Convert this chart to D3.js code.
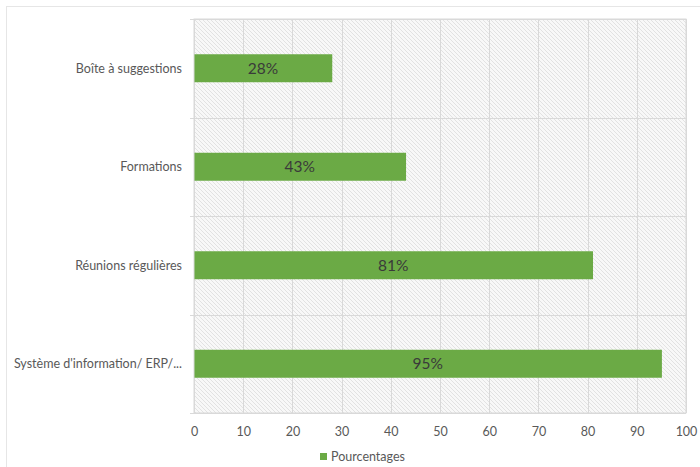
<!DOCTYPE html>
<html>
<head>
<meta charset="utf-8">
<script src="https://cdn.jsdelivr.net/npm/d3@7/dist/d3.min.js"></script>
<style>
  html, body { margin: 0; padding: 0; background: #fff; }
  svg { display: block; font-family: Lato, "Open Sans", sans-serif; }
</style>
</head>
<body>
<svg id="chart" width="700" height="467"></svg>
<script>
// Categories (top to bottom) and their percentages
const categories = [
  "Boîte à suggestions",
  "Formations",
  "Réunions régulières",
  "Système d'information/ ERP/..."
];
const values = [28, 43, 81, 95];
const xTicks = [0, 10, 20, 30, 40, 50, 60, 70, 80, 90, 100];
const seriesName = "Pourcentages";

const svg = d3.select("#chart");
const W = 700, H = 467;
const margin = { left: 194, right: 14, top: 19, bottom: 54 };
const innerW = W - margin.left - margin.right;
const innerH = H - margin.top - margin.bottom;

const barColor = "#6BAA45";
const gridColor = "#d9d9d9";
const textColor = "#595959";

// Outer frame lines of the chart area
svg.append("line").attr("x1", 6).attr("x2", W).attr("y1", 6.5).attr("y2", 6.5)
  .attr("stroke", "#e6e6e6").attr("stroke-width", 1);
svg.append("line").attr("x1", 6.5).attr("x2", 6.5).attr("y1", 6).attr("y2", H)
  .attr("stroke", "#e6e6e6").attr("stroke-width", 1);

// Diagonal hatch fill for the plot area
const defs = svg.append("defs");
const pat = defs.append("pattern")
  .attr("id", "hatch")
  .attr("patternUnits", "userSpaceOnUse")
  .attr("width", 4).attr("height", 4);
pat.append("rect").attr("width", 4).attr("height", 4).attr("fill", "#f8f8f8");
pat.append("path")
  .attr("d", "M-1,-1 L5,5 M-1,3 L1,5 M3,-1 L5,1")
  .attr("stroke", "#e0e0e0").attr("stroke-width", 0.9);

const g = svg.append("g").attr("transform", `translate(${margin.left},${margin.top})`);

const x = d3.scaleLinear().domain([0, 100]).range([0, innerW]);
const y = d3.scaleBand().domain(categories).range([0, innerH]).paddingInner(0).paddingOuter(0);

// Plot background
g.append("rect")
  .attr("x", 0).attr("y", 0)
  .attr("width", innerW).attr("height", innerH)
  .attr("fill", "url(#hatch)")
  .attr("stroke", gridColor).attr("stroke-width", 1);

// Vertical gridlines
g.append("g").selectAll("line")
  .data(xTicks)
  .join("line")
  .attr("x1", d => Math.round(x(d)) + 0.5)
  .attr("x2", d => Math.round(x(d)) + 0.5)
  .attr("y1", 0).attr("y2", innerH)
  .attr("stroke", gridColor).attr("stroke-width", 1);

// Category separators with short outer ticks
const sepPositions = categories.map(c => y(c)).concat([innerH]);
g.append("g").selectAll("line")
  .data(sepPositions)
  .join("line")
  .attr("x1", -4).attr("x2", innerW)
  .attr("y1", d => Math.round(d) + 0.5)
  .attr("y2", d => Math.round(d) + 0.5)
  .attr("stroke", gridColor).attr("stroke-width", 1);

// Bars
const barH = 28;
g.append("g").selectAll("rect")
  .data(values)
  .join("rect")
  .attr("x", x(0) + 0.5)
  .attr("y", (d, i) => y(categories[i]) + y.bandwidth() / 2 - barH / 2)
  .attr("width", d => x(d) - x(0))
  .attr("height", barH)
  .attr("fill", barColor);

// Value labels centred in each bar
g.append("g").selectAll("text")
  .data(values)
  .join("text")
  .attr("x", d => (x(0) + x(d)) / 2)
  .attr("y", (d, i) => y(categories[i]) + y.bandwidth() / 2)
  .attr("dy", "0.36em")
  .attr("text-anchor", "middle")
  .attr("font-size", 15.5)
  .attr("fill", "#3a3a3a")
  .text(d => d + "%");

// Category labels
g.append("g").selectAll("text")
  .data(categories)
  .join("text")
  .attr("x", -12)
  .attr("y", d => y(d) + y.bandwidth() / 2)
  .attr("dy", "0.35em")
  .attr("text-anchor", "end")
  .attr("font-size", 12.5)
  .attr("fill", textColor)
  .text(d => d);

// X axis tick labels
const xAxis = d3.axisBottom(x).tickValues(xTicks).tickSize(0).tickPadding(14);
const ax = g.append("g").attr("transform", `translate(0,${innerH})`).call(xAxis);
ax.select(".domain").remove();
ax.selectAll("text").attr("font-size", 12.5).attr("fill", textColor)
  .attr("font-family", "Lato, 'Open Sans', sans-serif");

// Legend
const legend = svg.append("g").attr("transform", `translate(320,457)`);
legend.append("rect").attr("x", 0).attr("y", -4).attr("width", 7).attr("height", 7).attr("fill", barColor);
legend.append("text").attr("x", 11).attr("y", 0).attr("dy", "0.35em")
  .attr("font-size", 12.5).attr("fill", textColor).text(seriesName);
</script>
</body>
</html>
